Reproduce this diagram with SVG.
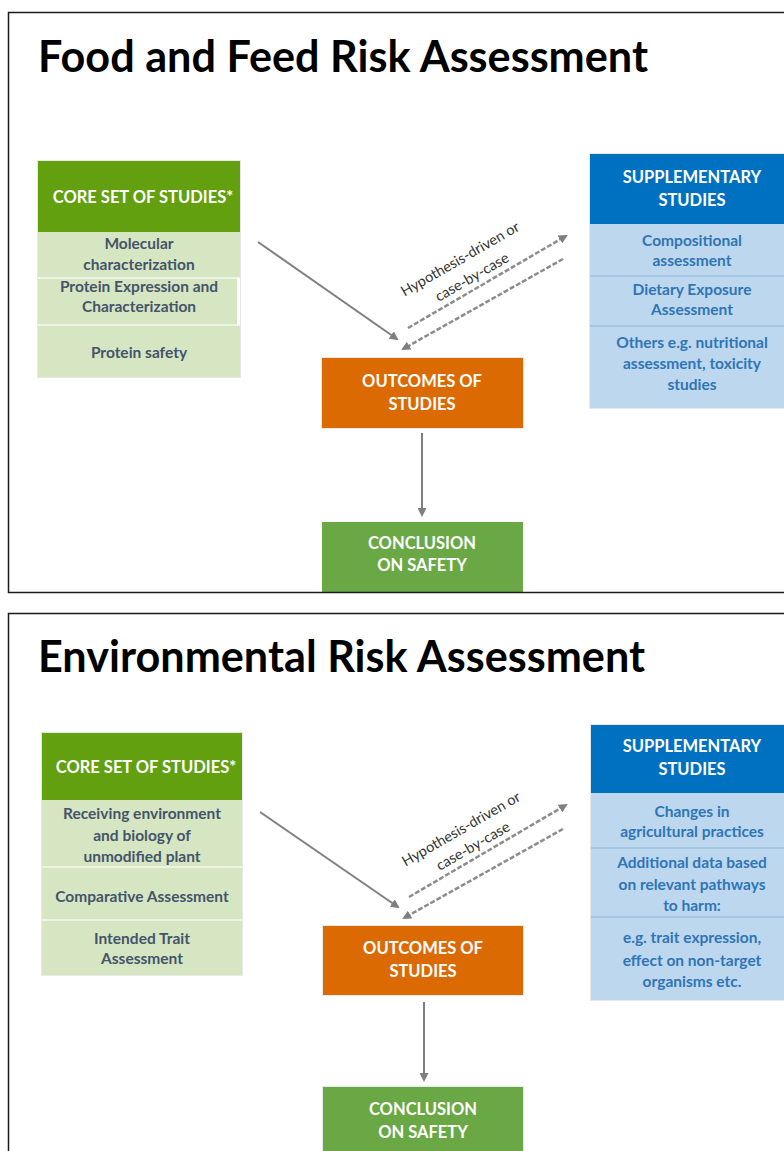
<svg xmlns="http://www.w3.org/2000/svg" width="784" height="1151" viewBox="0 0 784 1151">
<defs>
<style>
.bg{fill:#fff}
.frame{fill:none;stroke:#1a1a1a;stroke-width:1.5}
.title{font-family:Lato,"Liberation Sans",sans-serif;font-weight:700;font-size:43px;fill:#000}
.hd{font-family:Lato,"Liberation Sans",sans-serif;font-weight:700;font-size:16.5px;fill:#fff;text-anchor:middle}
.core-hd{fill:#62a00f}
.core-row{fill:#d6e6c3}
.core-t{font-family:Lato,"Liberation Sans",sans-serif;font-weight:700;font-size:15.5px;fill:#44546a;text-anchor:middle}
.sup-hd{fill:#0070c0}
.sup-row{fill:#bdd7ee}
.sup-t{font-family:Lato,"Liberation Sans",sans-serif;font-weight:700;font-size:15.5px;fill:#2e75b6;text-anchor:middle}
.out{fill:#db6a02}
.concl{fill:#6aa845}
.box-edge{fill:none;stroke:#e8e8e8;stroke-width:1}
.sep-g{stroke:#f3f8ee;stroke-width:1.5}
.sep-b{stroke:#8fb6dc;stroke-width:1.2}
.arrow{stroke:#7f7f7f;stroke-width:2;fill:none}
.dash{stroke:#8c8c8c;stroke-width:2.5;stroke-dasharray:5 2;fill:none}
.lbl{font-family:Lato,"Liberation Sans",sans-serif;font-size:14.5px;fill:#333;text-anchor:middle}
</style>
<marker id="ah" markerWidth="9" markerHeight="9" refX="7" refY="4.5" orient="auto" markerUnits="userSpaceOnUse">
<path d="M0,0 L9,4.5 L0,9 z" fill="#7f7f7f"/>
</marker>
</defs>

<!-- panel backgrounds -->
<rect class="bg" x="8.5" y="12.5" width="800" height="580"/>
<rect class="bg" x="8.5" y="613.5" width="800" height="560"/>

<!-- ===== Food and Feed panel ===== -->
<text class="title" x="38" y="72" textLength="610" lengthAdjust="spacingAndGlyphs">Food and Feed Risk Assessment</text>

<g id="ff-core">
<rect class="core-hd" x="38" y="161" width="202" height="71"/>
<text class="hd" x="143" y="203">CORE SET OF STUDIES*</text>
<rect class="core-row" x="38" y="232" width="202" height="46"/>
<rect class="core-row" x="38" y="278" width="199" height="47"/>
<rect class="core-row" x="38" y="325" width="202" height="52"/>
<line class="sep-g" x1="38" y1="278" x2="240" y2="278"/>
<line class="sep-g" x1="38" y1="325" x2="240" y2="325"/>
<text class="core-t" x="139" y="249">Molecular</text>
<text class="core-t" x="139" y="270">characterization</text>
<text class="core-t" x="139" y="292">Protein Expression and</text>
<text class="core-t" x="139" y="312">Characterization</text>
<text class="core-t" x="139" y="358">Protein safety</text>
<rect class="box-edge" x="37.5" y="160.5" width="203" height="217"/>
</g>

<g id="ff-supp">
<rect class="sup-hd" x="590" y="154" width="200" height="70"/>
<text class="hd" x="692" y="183">SUPPLEMENTARY</text>
<text class="hd" x="692" y="206">STUDIES</text>
<rect class="sup-row" x="590" y="224" width="200" height="184"/>
<line class="sep-b" x1="590" y1="276" x2="790" y2="276"/>
<line class="sep-b" x1="590" y1="326" x2="790" y2="326"/>
<text class="sup-t" x="692" y="246">Compositional</text>
<text class="sup-t" x="692" y="266">assessment</text>
<text class="sup-t" x="692" y="295">Dietary Exposure</text>
<text class="sup-t" x="692" y="315">Assessment</text>
<text class="sup-t" x="692" y="348">Others e.g. nutritional</text>
<text class="sup-t" x="692" y="369">assessment, toxicity</text>
<text class="sup-t" x="692" y="390">studies</text>
<rect class="box-edge" x="589.5" y="153.5" width="201" height="255"/>
</g>

<g id="ff-outcomes">
<rect class="out" x="322" y="358" width="201" height="70"/>
<rect class="box-edge" x="321.5" y="357.5" width="202" height="71"/>
<text class="hd" x="422" y="387">OUTCOMES OF</text>
<text class="hd" x="422" y="410">STUDIES</text>
</g>

<g id="ff-conclusion">
<rect class="concl" x="322" y="522" width="201" height="70"/>
<text class="hd" x="422" y="549">CONCLUSION</text>
<text class="hd" x="422" y="571">ON SAFETY</text>
</g>

<g id="ff-connectors">
<line class="arrow" x1="258" y1="242" x2="397" y2="339" marker-end="url(#ah)"/>
<line class="dash" x1="408" y1="328" x2="566" y2="236" marker-end="url(#ah)"/>
<line class="dash" x1="563" y1="259" x2="403" y2="349" marker-end="url(#ah)"/>
<line class="arrow" x1="422" y1="433" x2="422" y2="515" marker-end="url(#ah)"/>
<text class="lbl" transform="translate(460,259) rotate(-30)" y="5">Hypothesis-driven or</text>
<text class="lbl" transform="translate(472,277) rotate(-30)" y="5">case-by-case</text>
</g>

<!-- ===== Environmental panel ===== -->
<text class="title" x="38" y="672" textLength="607" lengthAdjust="spacingAndGlyphs">Environmental Risk Assessment</text>

<g id="env-core">
<rect class="core-hd" x="42" y="733" width="200" height="67"/>
<text class="hd" x="146" y="773">CORE SET OF STUDIES*</text>
<rect class="core-row" x="42" y="800" width="200" height="175"/>
<line class="sep-g" x1="42" y1="867" x2="242" y2="867"/>
<line class="sep-g" x1="42" y1="920" x2="242" y2="920"/>
<text class="core-t" x="142" y="819">Receiving environment</text>
<text class="core-t" x="142" y="841">and biology of</text>
<text class="core-t" x="142" y="862">unmodified plant</text>
<text class="core-t" x="142" y="902">Comparative Assessment</text>
<text class="core-t" x="142" y="944">Intended Trait</text>
<text class="core-t" x="142" y="964">Assessment</text>
<rect class="box-edge" x="41.5" y="732.5" width="201" height="243"/>
</g>

<g id="env-supp">
<rect class="sup-hd" x="591" y="725" width="200" height="68"/>
<text class="hd" x="692" y="752">SUPPLEMENTARY</text>
<text class="hd" x="692" y="775">STUDIES</text>
<rect class="sup-row" x="591" y="793" width="200" height="207"/>
<line class="sep-b" x1="591" y1="848" x2="791" y2="848"/>
<line class="sep-b" x1="591" y1="917" x2="791" y2="917"/>
<text class="sup-t" x="692" y="817">Changes in</text>
<text class="sup-t" x="692" y="837">agricultural practices</text>
<text class="sup-t" x="692" y="868">Additional data based</text>
<text class="sup-t" x="692" y="890">on relevant pathways</text>
<text class="sup-t" x="692" y="911">to harm:</text>
<text class="sup-t" x="692" y="943">e.g. trait expression,</text>
<text class="sup-t" x="692" y="966">effect on non-target</text>
<text class="sup-t" x="692" y="987">organisms etc.</text>
<rect class="box-edge" x="590.5" y="724.5" width="201" height="276"/>
</g>

<g id="env-outcomes">
<rect class="out" x="323" y="926" width="200" height="69"/>
<rect class="box-edge" x="322.5" y="925.5" width="201" height="70"/>
<text class="hd" x="423" y="954">OUTCOMES OF</text>
<text class="hd" x="423" y="977">STUDIES</text>
</g>

<g id="env-conclusion">
<rect class="concl" x="323" y="1087" width="200" height="70"/>
<rect class="box-edge" x="322.5" y="1086.5" width="201" height="70"/>
<text class="hd" x="423" y="1115">CONCLUSION</text>
<text class="hd" x="423" y="1138">ON SAFETY</text>
</g>

<g id="env-connectors">
<line class="arrow" x1="260" y1="812" x2="398" y2="907" marker-end="url(#ah)"/>
<line class="dash" x1="409" y1="897" x2="566" y2="805" marker-end="url(#ah)"/>
<line class="dash" x1="563" y1="829" x2="404" y2="918" marker-end="url(#ah)"/>
<line class="arrow" x1="424" y1="1002" x2="424" y2="1080" marker-end="url(#ah)"/>
<text class="lbl" transform="translate(461,829) rotate(-30)" y="5">Hypothesis-driven or</text>
<text class="lbl" transform="translate(473,846) rotate(-30)" y="5">case-by-case</text>
</g>

<!-- panel borders drawn last so they sit over the clipped boxes -->
<rect class="frame" x="8.5" y="12.5" width="800" height="580"/>
<rect class="frame" x="8.5" y="613.5" width="800" height="560"/>
</svg>
